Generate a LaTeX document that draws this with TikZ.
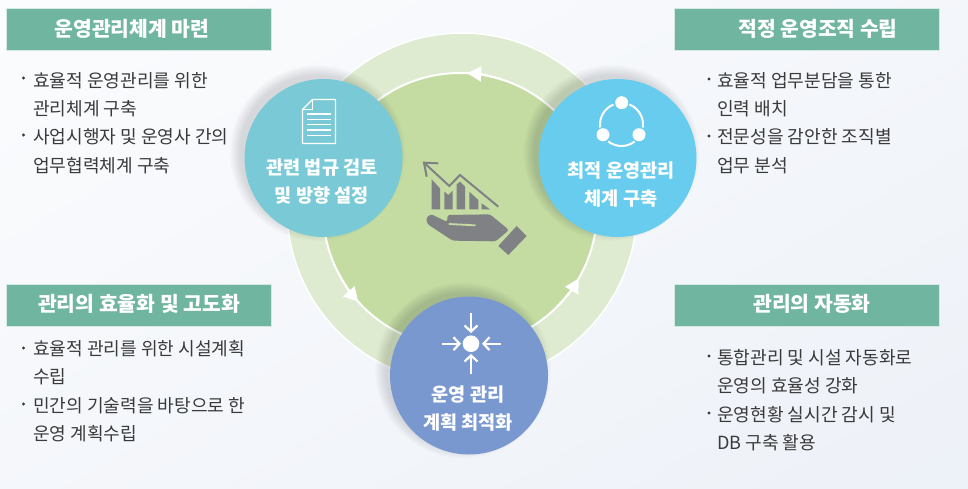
\documentclass[tikz,border=0pt]{standalone}
\usepackage{fontspec}
\setmainfont{Noto Sans CJK KR}
\usetikzlibrary{arrows.meta,calc,shadings}
\definecolor{hdr}{HTML}{70B59F}
\definecolor{ringc}{HTML}{DEEBD0}
\definecolor{innerc}{HTML}{C4DBA2}
\definecolor{cteal}{HTML}{79CAD6}
\definecolor{csky}{HTML}{68CCEE}
\definecolor{cblue}{HTML}{7A98D0}
\definecolor{icong}{HTML}{808185}
\definecolor{txt}{HTML}{3A3A3A}
\definecolor{bgend}{HTML}{E9EEF6}
\tikzset{
  hdrbox/.style={fill=hdr,draw=white!70!hdr,line width=.4pt,minimum width=265pt,minimum height=42pt,inner sep=0pt},
  hdrtxt/.style={inner sep=0pt,text=white,font=\fontsize{20.4}{24}\selectfont\bfseries},
  listtxt/.style={anchor=north west,align=left,inner sep=0pt,text=txt,font=\fontsize{18.1}{28.4}\selectfont},
  bubble/.style={circle,minimum size=158pt,inner sep=0pt},
  bubtxt/.style={align=center,inner sep=0pt,text=white,font=\fontsize{18.6}{28}\selectfont\bfseries},
  ringtip/.style={white,line width=2pt,-{Triangle[length=14pt,width=15pt]}},
  iconline/.style={white,line width=1.4pt},
  dotn/.style={circle,fill=txt,minimum size=3.2pt,inner sep=0pt},
  conv/.style={white,line width=2.2pt,-{Straight Barb[length=6pt,width=13pt]}},
  grayline/.style={icong,line width=2pt,line join=miter}
}
\newcommand{\softshadow}[2]{%
  \foreach \r in {78,79,...,88}{\fill[black,opacity=0.013] (#1-6,#2-5) circle[radius=\r pt];}}
\begin{document}
\begin{tikzpicture}[x=1pt,y=-1pt]
\useasboundingbox (0,0) rectangle (968,488);
\begin{scope}
\clip (0,0) rectangle (968,488);
\shade[shading=axis,top color=white,bottom color=bgend,middle color=white!50!bgend,shading angle=30] (-300,-400) rectangle (1268,888);
\end{scope}
% rings
\coordinate (cc) at (462,208);
\coordinate (ci) at (460,210);
\fill[ringc,draw=white,line width=1.5pt] (cc) circle[radius=175pt];
\fill[innerc,draw=white,line width=2pt] (ci) circle[radius=137pt];
% ring arrows
\coordinate (ra) at ($(ci)+(72:137pt)$);
\coordinate (rb) at ($(ci)+(207:137pt)$);
\coordinate (rc) at ($(ci)+(-45:137pt)$);
\draw[ringtip] (ra) arc[start angle=72,end angle=87,radius=137pt];
\draw[ringtip] (rb) arc[start angle=207,end angle=222,radius=137pt];
\draw[ringtip] (rc) arc[start angle=-45,end angle=-30,radius=137pt];
% shadows and bubbles
\softshadow{323.5}{158}
\softshadow{617.5}{158}
\softshadow{469}{375.5}
\node[bubble,fill=cteal] (b1) at (323.5,158) {};
\node[bubble,fill=csky] (b2) at (617.5,158) {};
\node[bubble,fill=cblue] (b3) at (469,375.5) {};
\node[bubtxt] (t1) at (322,181.5) {관련 법규 검토\\및 방향 설정};
\node[bubtxt] (t2) at (621,185) {최적 운영관리\\체계 구축};
\node[bubtxt] (t3) at (468,409) {운영 관리\\계획 최적화};
% document icon
\draw[iconline,line join=round] (312.5,99.5) -- (335.5,99.5) -- (335.5,143.5) -- (302.5,143.5) -- (302.5,109.5) -- cycle;
\draw[iconline,line width=1pt] (312.5,99.5) -- (312.5,109.5) -- (302.5,109.5);
\foreach \y in {114,119.3,124.7,130,135.3}{\draw[iconline,line width=1.2pt] (307,\y) -- (331,\y);}
% cycle icon
\coordinate (cy) at (621.5,124.5);
\draw[white,line width=2pt] ($(cy)+(112:21.5pt)$) arc[start angle=112,end angle=188,radius=21.5pt];
\draw[white,line width=2pt] ($(cy)+(232:21.5pt)$) arc[start angle=232,end angle=308,radius=21.5pt];
\draw[white,line width=2pt] ($(cy)+(-8:21.5pt)$) arc[start angle=-8,end angle=68,radius=21.5pt];
\fill[white] (621.7,102.7) circle[radius=6.5pt] (603,134.7) circle[radius=6.5pt] (639,134.7) circle[radius=6.5pt];
% converge icon
\fill[white] (471,343.7) circle[radius=8.3pt];
\coordinate (ct) at (471,313); \coordinate (ctb) at (471,333);
\coordinate (cb) at (471,373.5); \coordinate (cbb) at (471,354);
\coordinate (cl) at (442,343.7); \coordinate (clb) at (461,343.7);
\coordinate (cr) at (501,343.7); \coordinate (crb) at (482,343.7);
\draw[conv] (ct) -- (ctb);
\draw[conv] (cb) -- (cbb);
\draw[conv] (cl) -- (clb);
\draw[conv] (cr) -- (crb);
% central chart and hand icon
\begin{scope}[shift={(410,150)},x=.3333pt,y=-.3333pt]
\draw[grayline] (265,170) -- (150,75) -- (118,108) -- (42,38);
\draw[grayline] (85,40) -- (42,38) -- (50,80);
\fill[icong] (65,88) -- (90,115) -- (90,178) -- (65,178) -- cycle;
\fill[icong] (103,125) -- (115,135) -- (128,122) -- (128,178) -- (103,178) -- cycle;
\fill[icong] (140,103) -- (150,95) -- (165,110) -- (165,178) -- (140,178) -- cycle;
\fill[icong] (178,125) -- (205,150) -- (205,178) -- (178,178) -- cycle;
\fill[icong] (215,160) -- (240,178) -- (215,178) -- cycle;
\fill[icong,rounded corners=2.5pt] (48,205) -- (62,192) -- (112,216) -- (112,195) -- (240,193) -- (297,240) -- (257,274) -- (128,272) -- (52,222) -- cycle;
\draw[innerc,line width=1.8pt,line cap=round] (118,222) -- (195,226);
\fill[icong] (320,228) -- (350,258) -- (295,315) -- (265,288) -- cycle;
\end{scope}
% headers
\node[hdrbox] (h1) at (139,29) {};
\node[hdrbox] (h2) at (806.5,29) {};
\node[hdrbox] (h3) at (139,305) {};
\node[hdrbox] (h4) at (806.5,305) {};
\node[hdrtxt] (ht1) at (132,29) {운영관리체계 마련};
\node[hdrtxt] (ht2) at (818,29) {적정 운영조직 수립};
\node[hdrtxt] (ht3) at (139,304) {관리의 효율화 및 고도화};
\node[hdrtxt] (ht4) at (812,304) {관리의 자동화};
% lists
\node[listtxt] (l1) at (33,72) {효율적 운영관리를 위한\\관리체계 구축\\사업시행자 및 운영사 간의\\업무협력체계 구축};
\node[listtxt] (l2) at (717,72) {효율적 업무분담을 통한\\인력 배치\\전문성을 감안한 조직별\\업무 분석};
\node[listtxt] (l3) at (33,340) {효율적 관리를 위한 시설계획\\수립\\민간의 기술력을 바탕으로 한\\운영 계획수립};
\node[listtxt] (l4) at (717,349) {통합관리 및 시설 자동화로\\운영의 효율성 강화\\운영현황 실시간 감시 및\\DB 구축 활용};
\node[dotn] (d1) at (23.5,78) {};
\node[dotn] (d2) at (23.5,135) {};
\node[dotn] (d3) at (709,79) {};
\node[dotn] (d4) at (709,136) {};
\node[dotn] (d5) at (23.5,348) {};
\node[dotn] (d6) at (23.5,404) {};
\node[dotn] (d7) at (709,356) {};
\node[dotn] (d8) at (709,413) {};
\end{tikzpicture}
\end{document}
